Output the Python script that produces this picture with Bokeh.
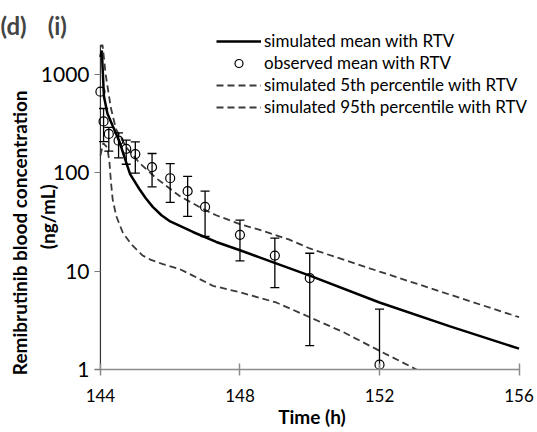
from bokeh.plotting import figure
from bokeh.models import (Legend, LegendItem, FixedTicker, PrintfTickFormatter,
                          Range1d, ColumnDataSource)
from bokeh.embed import file_html
from bokeh.resources import INLINE

# ---- data ----
mean_t = [144.0, 144.04, 144.1, 144.2, 144.35, 144.55, 144.7, 144.85, 145.12, 145.3,
          145.5, 145.75, 146.0, 146.65, 147.32, 148.0, 148.56, 150.0, 152.0, 154.0, 156.0]
mean_c = [1500, 1750, 600, 400, 300, 205, 140, 97, 68, 55,
          45, 37, 32, 25, 19.8, 16.3, 13.8, 9.0, 4.8, 2.76, 1.63]

p95_t = [144.0, 144.06, 144.15, 144.3, 144.45, 144.75, 145.12, 145.6, 146.27, 146.93,
         147.32, 148.0, 148.5, 149.4, 150.0, 152.0, 154.0, 156.0]
p95_c = [1900, 2000, 1000, 455, 275, 180, 126, 88, 58, 43,
         37, 30, 26.7, 21, 17, 9.9, 5.8, 3.4]

p5_t = [144.0, 144.08, 144.2, 144.26, 144.3, 144.35, 144.45, 144.64, 144.88, 145.21,
        145.45, 145.79, 146.27, 146.65, 147.22, 148.0, 149.04, 150.0, 150.96, 152.0,
        153.06, 153.5]
p5_c = [150, 200, 180, 126, 82, 54, 36.6, 24.7, 18.8, 14.4,
        13, 11.8, 10.5, 9.0, 7.1, 6.1, 4.8, 3.4, 2.4, 1.55,
        1.0, 0.8]

nan = float("nan")
obs_t = [144.0, 144.09, 144.24, 144.52, 144.74, 145.0, 145.48, 146.0, 146.5, 147.0,
         148.0, 149.0, 150.0, 152.0]
obs_c = [667, 333, 248, 212, 175, 155, 114, 88, 65, 45,
         23.4, 14.4, 8.5, 1.12]
obs_hi = [nan, 450, 290, 254, 215, 206, 157, 124, 92, 65,
          33, 21.7, 15.2, 4.1]
obs_lo = [nan, 207, 166, 142, 122, 99, 72, 50, 36, 22.5,
          12.7, 6.8, 1.75, 0.5]

x_ticks = [144, 148, 152, 156]
y_ticks = [1, 10, 100, 1000]
y_axis_top = 2000          # upper end of the drawn y-axis line
x_start, x_end = 143.83, 156.3
y_start, y_end = 1, 2730

FONT = "Lato"

p = figure(width=535, height=430, y_axis_type="log",
           x_range=Range1d(x_start, x_end), y_range=Range1d(y_start, y_end),
           output_backend="svg", toolbar_location=None,
           min_border_left=94, min_border_right=6,
           min_border_top=31, min_border_bottom=61)

p.title.text = "(d)\u2003\u2009(i)"
p.title.text_font = FONT
p.title.text_font_size = "24px"
p.title.text_font_style = "bold"
p.title.align = "left"
p.title.offset = -94
p.title.standoff = -17

p.outline_line_color = None
p.xgrid.visible = False
p.ygrid.visible = False

# y-axis line at t = 144 (axis crossing)
p.segment(x0=[x_ticks[0]], y0=[y_ticks[0]], x1=[x_ticks[0]], y1=[y_axis_top],
          line_color="#333333", line_width=1.2)

dash = "7 4"
r_mean = p.line(mean_t, mean_c, line_color="black", line_width=2.5)
r_p5 = p.line(p5_t, p5_c, line_color="#3a3a3a", line_width=1.8, line_dash=dash)
r_p95 = p.line(p95_t, p95_c, line_color="#3a3a3a", line_width=1.8, line_dash=dash)

src = ColumnDataSource(dict(t=obs_t, c=obs_c, hi=obs_hi, lo=obs_lo))
p.segment(x0="t", y0="lo", x1="t", y1="hi", source=src, line_color="black", line_width=1.3)
p.scatter(x="t", y="hi", source=src, marker="dash", size=9, line_color="black", line_width=1.3)
p.scatter(x="t", y="lo", source=src, marker="dash", size=9, line_color="black", line_width=1.3)
r_obs = p.scatter(x="t", y="c", source=src, marker="circle", size=9,
                  fill_color=None, line_color="black", line_width=1.2)

legend = Legend(items=[
    LegendItem(label="simulated mean with RTV", renderers=[r_mean]),
    LegendItem(label="observed mean with RTV", renderers=[r_obs]),
    LegendItem(label="simulated 5th percentile with RTV", renderers=[r_p5]),
    LegendItem(label="simulated 95th percentile with RTV", renderers=[r_p95]),
], location=(122, 252))
legend.border_line_color = None
legend.background_fill_alpha = 0
legend.padding = 0
legend.margin = 0
legend.spacing = 1
legend.label_height = 20
legend.glyph_height = 20
legend.glyph_width = 45
legend.label_standoff = 3
legend.label_text_font = FONT
legend.label_text_font_size = "17px"
legend.label_text_color = "black"
p.add_layout(legend)

# x axis
xa = p.xaxis[0]
xa.bounds = (x_start, x_ticks[-1])
xa.ticker = FixedTicker(ticks=x_ticks)
xa.minor_tick_line_color = None
xa.axis_line_color = "#8c8c8c"
xa.axis_line_width = 1.5
xa.major_tick_line_color = "#8c8c8c"
xa.major_tick_line_width = 1.5
xa.major_tick_in = 6
xa.major_tick_out = 6
xa.major_label_standoff = 13
xa.major_label_text_font = FONT
xa.major_label_text_font_size = "17px"
xa.major_label_text_color = "black"
xa.axis_label = "Time (h)"
xa.axis_label_text_font = FONT
xa.axis_label_text_font_size = "19px"
xa.axis_label_text_font_style = "bold"
xa.axis_label_text_color = "black"
xa.axis_label_standoff = 0

# y axis (line drawn at t = 144 above; ticks point inward from the frame edge)
ya = p.yaxis[0]
ya.ticker = FixedTicker(ticks=y_ticks)
ya.formatter = PrintfTickFormatter(format="%d")
ya.minor_tick_line_color = None
ya.axis_line_color = None
ya.major_tick_line_color = "#777777"
ya.major_tick_line_width = 1.2
ya.major_tick_in = 6
ya.major_tick_out = 0
ya.major_label_standoff = 5
ya.major_label_text_font = FONT
ya.major_label_text_font_size = "21px"
ya.major_label_text_color = "black"
ya.axis_label = ("Remibrutinib blood concentration" + "\u00a0" * 14 + "\n"
                 + "(ng/mL)" + "\u00a0" * 7)
ya.axis_label_text_font = FONT
ya.axis_label_text_font_size = "19px"
ya.axis_label_text_font_style = "bold"
ya.axis_label_text_color = "black"
ya.axis_label_standoff = -21

open("out.html", "w").write(file_html(p, INLINE))
